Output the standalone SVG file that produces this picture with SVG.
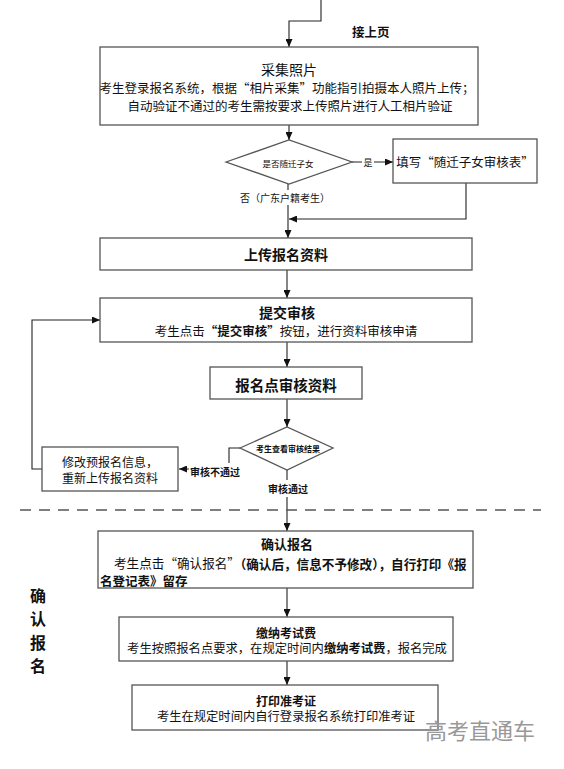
<svg xmlns="http://www.w3.org/2000/svg" width="564" height="769" viewBox="0 0 564 769">
<style>
text{font-family:"Noto Sans CJK SC","Noto Sans",sans-serif;fill:#111;dominant-baseline:central}
.box{fill:#fff;stroke:#555;stroke-width:1.3}
.c{text-anchor:middle}
.b{font-weight:bold}
.con{fill:none;stroke:#222;stroke-width:1.1;marker-end:url(#ah)}
.lbg{fill:#fff;stroke:none}
</style>
<defs>
<marker id="ah" markerUnits="userSpaceOnUse" markerWidth="8" markerHeight="7" refX="8" refY="3.5" orient="auto">
<path d="M0,0 L8,3.5 L0,7 z" fill="#111"/>
</marker>
</defs>
<rect width="564" height="769" fill="#fff"/>
<g id="connectors">
<path class="con" d="M321,0 V21 H289 V47"/>
<path class="con" d="M289,125 V140"/>
<path class="con" d="M352,162 H393"/>
<path class="con" d="M288,184 V238"/>
<path class="con" d="M466,183 V219 H289"/>
<path class="con" d="M287,270 V298"/>
<path class="con" d="M287,342 V367"/>
<path class="con" d="M287,399 V427"/>
<path class="con" d="M240,448 H229 V469 H179"/>
<path class="con" d="M287,470 V531"/>
<path class="con" d="M42,469 H32 V320 H100"/>
<path class="con" d="M287,588 V617"/>
<path class="con" d="M287,661 V685"/>
<line x1="20" y1="510" x2="541" y2="510" stroke="#555" stroke-width="1.5" stroke-dasharray="11,8"/>
<rect class="lbg" x="362" y="155" width="12" height="14"/>
<text class="c" x="368" y="162" font-size="9">是</text>
<rect class="lbg" x="240" y="190" width="90" height="15"/>
<text class="c" x="285" y="197" font-size="10">否（广东户籍考生）</text>
<rect class="lbg" x="189" y="463" width="52" height="17"/>
<text class="c b" x="215" y="471.5" font-size="10">审核不通过</text>
<rect class="lbg" x="266" y="480" width="43" height="17"/>
<text class="c b" x="288" y="488.5" font-size="10">审核通过</text>
</g>
<g id="n_top">
<text class="b" x="352" y="31" font-size="12.5">接上页</text>
</g>
<g id="n_photo">
<rect class="box" x="100" y="47" width="378" height="78"/>
<text class="c" x="289" y="69" font-size="14">采集照片</text>
<text class="c" x="287" y="87" font-size="12.5">考生登录报名系统，根据“相片采集”功能指引拍摄本人照片上传；</text>
<text class="c" x="290" y="105" font-size="12.5">自动验证不通过的考生需按要求上传照片进行人工相片验证</text>
</g>
<g id="n_d1">
<polygon class="box" points="226,162 289,140 352,162 289,184"/>
<text class="c" x="288" y="162.5" font-size="8.5">是否随迁子女</text>
</g>
<g id="n_fill">
<rect class="box" x="393" y="139" width="144" height="44"/>
<text class="c" x="465" y="161" font-size="12.5">填写“随迁子女审核表”</text>
</g>
<g id="n_upload">
<rect class="box" x="100" y="238" width="372" height="32"/>
<text class="c b" x="286" y="254" font-size="14">上传报名资料</text>
</g>
<g id="n_submit">
<rect class="box" x="100" y="298" width="372" height="44"/>
<text class="c b" x="287" y="312" font-size="14">提交审核</text>
<text class="c" x="286" y="330" font-size="12.5">考生点击<tspan class="b">“提交审核”</tspan>按钮，进行资料审核申请</text>
</g>
<g id="n_review">
<rect class="box" x="210" y="367" width="152" height="32"/>
<text class="c b" x="286" y="384" font-size="14.5">报名点审核资料</text>
</g>
<g id="n_d2">
<polygon class="box" points="240,448 287,427 333,448 287,470"/>
<text class="c b" x="288" y="448.5" font-size="8">考生查看审核结果</text>
</g>
<g id="n_modify">
<rect class="box" x="42" y="447" width="136" height="44"/>
<text class="c" x="110" y="461" font-size="12">修改预报名信息，</text>
<text class="c" x="110" y="477" font-size="12">重新上传报名资料</text>
</g>
<g id="n_side">
<text class="c b" x="38" y="595" font-size="16">确</text>
<text class="c b" x="38" y="618" font-size="16">认</text>
<text class="c b" x="38" y="642" font-size="16">报</text>
<text class="c b" x="38" y="665" font-size="16">名</text>
</g>
<g id="n_confirm">
<rect class="box" x="98" y="531" width="375" height="57"/>
<text class="c b" x="287" y="543" font-size="13">确认报名</text>
<text x="114" y="562.5" font-size="12.6">考生点击“确认报名”<tspan class="b">（确认后，信息不予修改），自行打印《报</tspan></text>
<text class="b" x="100" y="580" font-size="12.5">名登记表》留存</text>
</g>
<g id="n_fee">
<rect class="box" x="119" y="617" width="334" height="44"/>
<text class="c b" x="286" y="632" font-size="12">缴纳考试费</text>
<text class="c" x="287" y="648" font-size="12.3">考生按照报名点要求，在规定时间内<tspan class="b">缴纳考试费</tspan>，报名完成</text>
</g>
<g id="n_print">
<rect class="box" x="132" y="685" width="306" height="45"/>
<text class="c b" x="286" y="700" font-size="12">打印准考证</text>
<text class="c" x="286" y="716" font-size="12.3">考生在规定时间内自行登录报名系统打印准考证</text>
</g>
<g id="watermark">
<text x="425" y="729" font-size="22" style="fill:#999">高考直通车</text>
</g>
</svg>
